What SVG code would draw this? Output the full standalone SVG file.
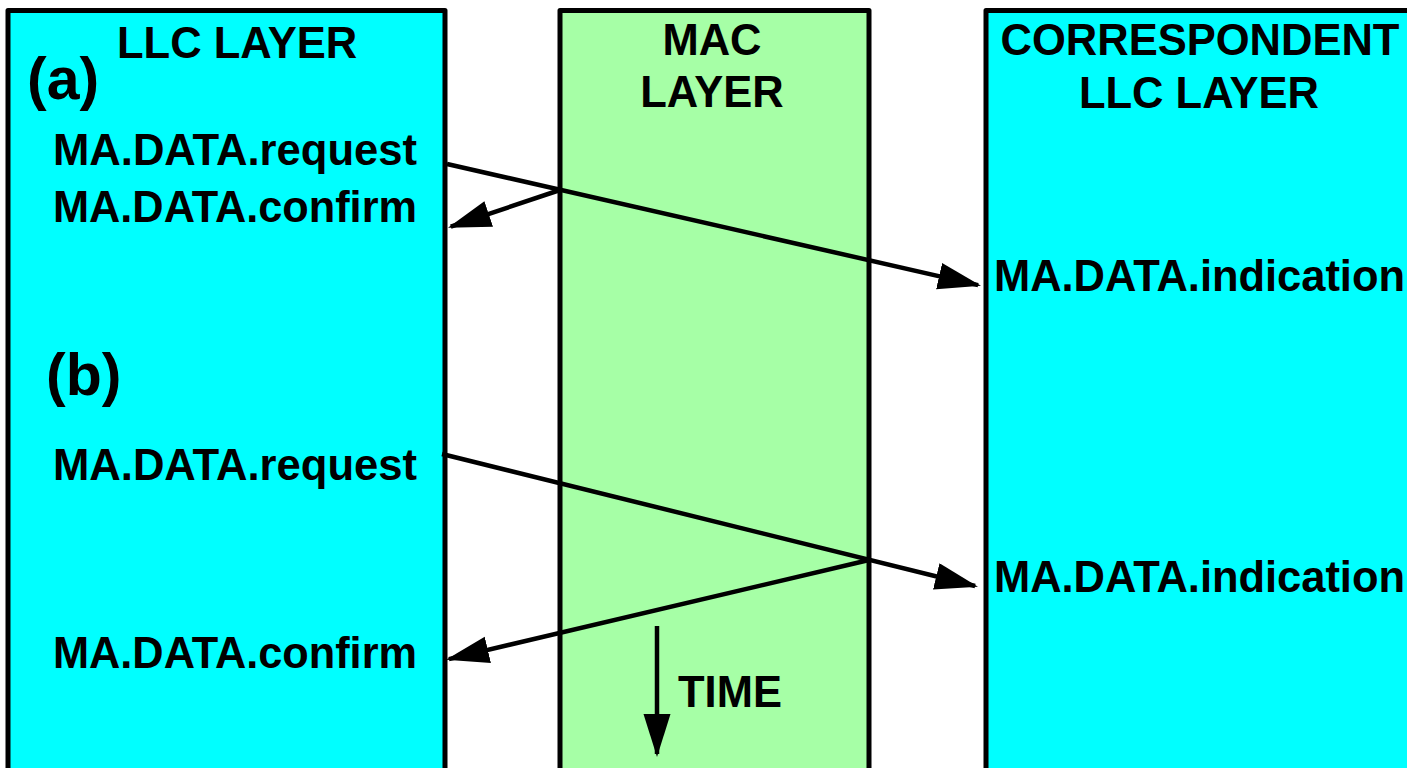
<svg xmlns="http://www.w3.org/2000/svg" width="1407" height="768" viewBox="0 0 1407 768">
<style>
.box{stroke:#000;stroke-width:5;stroke-linejoin:round}
.llc{fill:#00FFFF}
.mac{fill:#A6FFA6}
.t{font-family:"Liberation Sans",Arial,sans-serif;font-weight:bold;font-size:43.5px;fill:#000}
.big{font-size:59px}
.mid{text-anchor:middle}
.c{stroke:#000;stroke-width:4.5;fill:none;marker-end:url(#ah)}
</style>
<defs>
<marker id="ah" markerUnits="userSpaceOnUse" markerWidth="44" markerHeight="28" refX="40" refY="13.5" orient="auto">
<path d="M0,0 L43,13.5 L0,27 z" fill="#000"/>
</marker>
</defs>
<rect width="1407" height="768" fill="#fff"/>
<g id="llc">
<rect class="box llc" x="8" y="10.5" width="437" height="800"/>
<text class="t" x="117" y="58">LLC LAYER</text>
<text class="t big" x="27" y="99">(a)</text>
<text class="t" x="53" y="165" textLength="364" lengthAdjust="spacingAndGlyphs">MA.DATA.request</text>
<text class="t" x="53" y="222" textLength="364" lengthAdjust="spacingAndGlyphs">MA.DATA.confirm</text>
<text class="t big" x="46" y="395">(b)</text>
<text class="t" x="53" y="480" textLength="364" lengthAdjust="spacingAndGlyphs">MA.DATA.request</text>
<text class="t" x="53" y="668" textLength="364" lengthAdjust="spacingAndGlyphs">MA.DATA.confirm</text>
</g>
<g id="mac">
<rect class="box mac" x="560" y="10.5" width="309" height="800"/>
<text class="t mid" x="712" y="55">MAC</text>
<text class="t mid" x="712" y="107">LAYER</text>
<text class="t" x="678" y="707">TIME</text>
</g>
<g id="correspondent">
<rect class="box llc" x="986" y="10.5" width="440" height="800"/>
<text class="t mid" x="1200" y="55">CORRESPONDENT</text>
<text class="t mid" x="1199" y="108">LLC LAYER</text>
<text class="t" x="994" y="291" textLength="411" lengthAdjust="spacingAndGlyphs">MA.DATA.indication</text>
<text class="t" x="994" y="592" textLength="411" lengthAdjust="spacingAndGlyphs">MA.DATA.indication</text>
</g>
<g id="connectors">
<path class="c" d="M447,164 L978.1,285.1"/>
<path class="c" d="M560,190 L450.8,226.7"/>
<path class="c" d="M442,454 L975.1,586"/>
<path class="c" d="M869,560 L448.9,659.1"/>
<path class="c" d="M657,626 L657,754"/>
</g>
</svg>
